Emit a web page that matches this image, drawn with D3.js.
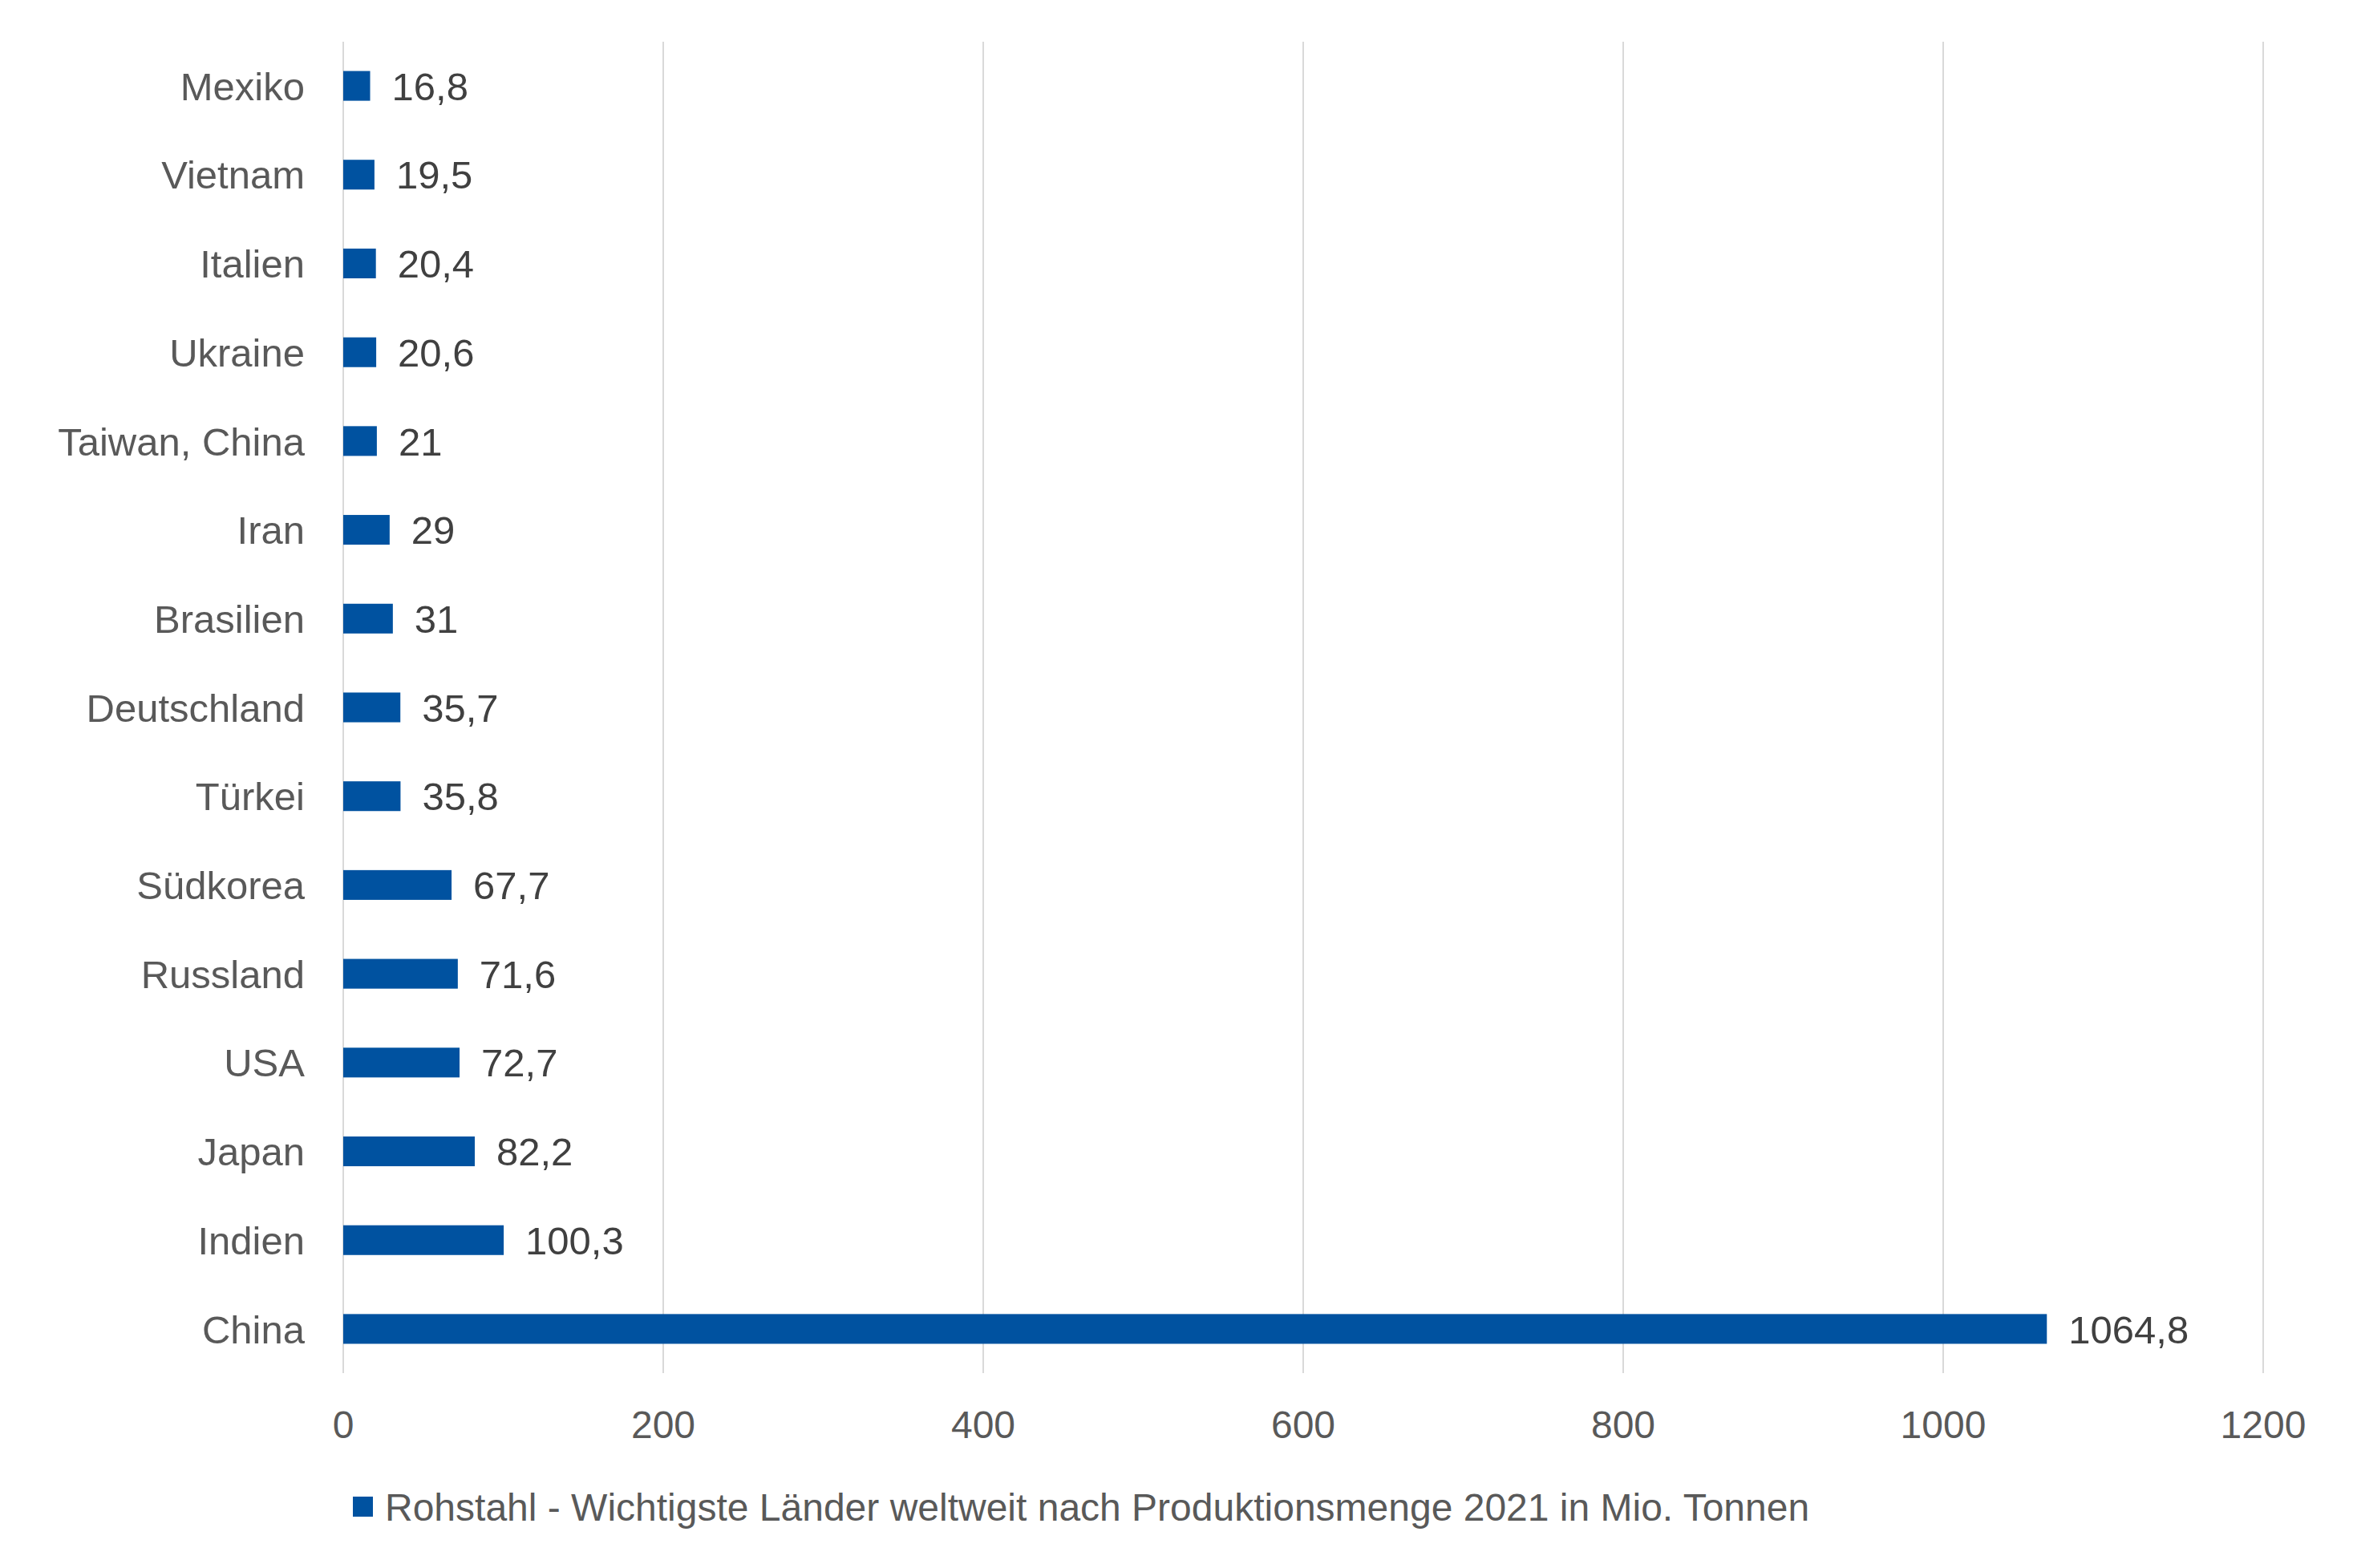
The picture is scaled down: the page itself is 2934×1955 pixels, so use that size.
<!DOCTYPE html>
<html><head><meta charset="utf-8">
<script src="https://cdn.jsdelivr.net/npm/d3@7"></script>
<style>body{margin:0;background:#fff}</style>
</head><body>
<script>
var countries = ["Mexiko","Vietnam","Italien","Ukraine","Taiwan, China","Iran","Brasilien","Deutschland","Türkei","Südkorea","Russland","USA","Japan","Indien","China"];
var values = [16.8,19.5,20.4,20.6,21,29,31,35.7,35.8,67.7,71.6,72.7,82.2,100.3,1064.8];
var xTicks = [0,200,400,600,800,1000,1200];
var legendLabel = "Rohstahl - Wichtigste Länder weltweit nach Produktionsmenge 2021 in Mio. Tonnen";

var W = 2934, H = 1955;
var svg = d3.select("body").append("svg").attr("width", W).attr("height", H)
  .style("font-family", "Liberation Sans, Arial, sans-serif");

var x = d3.scaleLinear().domain([0,1200]).range([428,2822]);
var y = d3.scaleBand().domain(countries).range([52,1712]).paddingInner(0.665).paddingOuter(0.33);

// gridlines
svg.selectAll("line.grid").data(xTicks).enter().append("line")
  .attr("x1", d => x(d)).attr("x2", d => x(d))
  .attr("y1", 52).attr("y2", 1712)
  .attr("stroke", "#d9d9d9").attr("stroke-width", 2);

svg.selectAll("text.tick").data(xTicks).enter().append("text")
  .attr("x", d => x(d)).attr("y", 1793)
  .attr("text-anchor", "middle").attr("font-size", 48).attr("fill", "#595959")
  .text(d => d);

svg.selectAll("rect.bar").data(values).enter().append("rect")
  .attr("x", x(0)).attr("y", (d,i) => y(countries[i]))
  .attr("width", d => x(d) - x(0)).attr("height", y.bandwidth())
  .attr("fill", "#0052a0");

svg.selectAll("text.val").data(values).enter().append("text")
  .attr("x", d => x(d) + 27).attr("y", (d,i) => y(countries[i]) + y.bandwidth()/2)
  .attr("dy", "0.36em").attr("font-size", 49).attr("fill", "#404040")
  .text(d => String(d).replace(".", ","));

svg.selectAll("text.cat").data(countries).enter().append("text")
  .attr("x", 380).attr("y", d => y(d) + y.bandwidth()/2)
  .attr("dy", "0.36em").attr("text-anchor", "end").attr("font-size", 49).attr("fill", "#595959")
  .text(d => d);

svg.append("rect").attr("x", 440).attr("y", 1866).attr("width", 25).attr("height", 25).attr("fill", "#0052a0");
svg.append("text").attr("x", 480).attr("y", 1879).attr("dy", "0.36em")
  .attr("font-size", 48).attr("fill", "#595959").text(legendLabel);
</script>
</body></html>
